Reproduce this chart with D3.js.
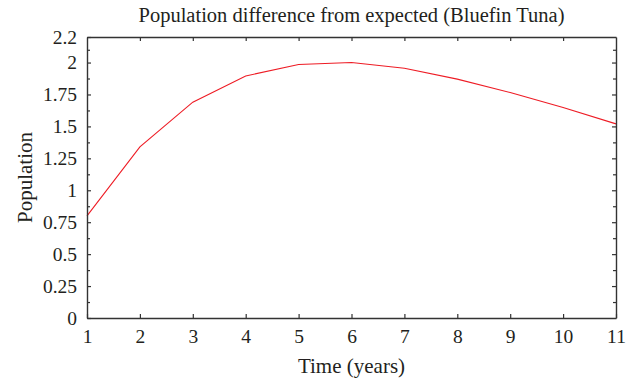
<!DOCTYPE html>
<html><head><meta charset="utf-8">
<script src="https://cdn.jsdelivr.net/npm/d3@7"></script>
<style>
html,body{margin:0;padding:0;background:#fff;}
svg text{font-family:'Liberation Serif','Times New Roman',serif;fill:#231f20;}
</style></head>
<body>
<svg id="c" width="635" height="381"></svg>
<script>
const years = [1,2,3,4,5,6,7,8,9,10,11];
const population = [0.80,1.34,1.69,1.895,1.985,2.0,1.955,1.87,1.765,1.648,1.52];
const yTicks = [0,0.25,0.5,0.75,1,1.25,1.5,1.75,2,2.2];
const yTickLabels = ["0","0.25","0.5","0.75","1","1.25","1.5","1.75","2","2.2"];
const yMinor = [0.125,0.375,0.625,0.875,1.125,1.375,1.625,1.875,2.1];
const xTicks = [1,2,3,4,5,6,7,8,9,10,11];
const title = "Population difference from expected (Bluefin Tuna)";
const xLabel = "Time (years)";
const yLabel = "Population";

const m = {l:87, r:19, t:37, b:63};
const W = 635, H = 381;
const svg = d3.select("#c");
const x = d3.scaleLinear().domain([1,11]).range([m.l, W-m.r]);
const y = d3.scaleLinear().domain([0,2.2]).range([H-m.b, m.t]);
const axisColor = "#333";
const tickFont = "19.5px";

// line
svg.append("path")
  .datum(years.map((d,i)=>[d,population[i]]))
  .attr("fill","none").attr("stroke","#ee1c25").attr("stroke-width",1.1)
  .attr("d", d3.line().x(d=>x(d[0])).y(d=>y(d[1])));

// left axis
const gl = svg.append("g").attr("transform",`translate(${m.l},0)`)
  .call(d3.axisLeft(y).tickValues(yTicks).tickFormat((d,i)=>yTickLabels[i]).tickSizeInner(-4).tickSizeOuter(0).tickPadding(10));
// right axis
svg.append("g").attr("transform",`translate(${W-m.r},0)`)
  .call(d3.axisRight(y).tickValues(yTicks.filter(v=>v!==2.2 && v!==0)).tickFormat("").tickSizeInner(-4).tickSizeOuter(0));
// minor ticks
svg.append("g").attr("transform",`translate(${m.l},0)`)
  .call(d3.axisLeft(y).tickValues(yMinor).tickFormat("").tickSizeInner(-3).tickSizeOuter(0))
  .select(".domain").remove();
svg.append("g").attr("transform",`translate(${W-m.r},0)`)
  .call(d3.axisRight(y).tickValues(yMinor).tickFormat("").tickSizeInner(-3).tickSizeOuter(0))
  .select(".domain").remove();
// bottom axis
const gb = svg.append("g").attr("transform",`translate(0,${H-m.b})`)
  .call(d3.axisBottom(x).tickValues(xTicks).tickFormat(d3.format("d")).tickSizeInner(-4).tickSizeOuter(0).tickPadding(11));
// top axis
svg.append("g").attr("transform",`translate(0,${m.t})`)
  .call(d3.axisTop(x).tickValues(xTicks.slice(1,-1)).tickFormat("").tickSizeInner(-4).tickSizeOuter(0));

svg.selectAll(".domain").attr("stroke",axisColor).attr("stroke-width",1.4);
svg.selectAll(".tick line").attr("stroke",axisColor).attr("stroke-width",1.2);
svg.selectAll(".tick text").style("font-size",tickFont).style("fill","#231f20");

// title
svg.append("text").attr("x",(m.l+W-m.r)/2).attr("y",22).attr("text-anchor","middle")
  .style("font-size","20.5px").text(title);
// x label
svg.append("text").attr("x",(m.l+W-m.r)/2).attr("y",373).attr("text-anchor","middle")
  .style("font-size","21px").text(xLabel);
// y label
svg.append("text").attr("transform",`translate(32,${(m.t+H-m.b)/2}) rotate(-90)`).attr("text-anchor","middle")
  .style("font-size","21px").text(yLabel);
</script>
</body></html>
